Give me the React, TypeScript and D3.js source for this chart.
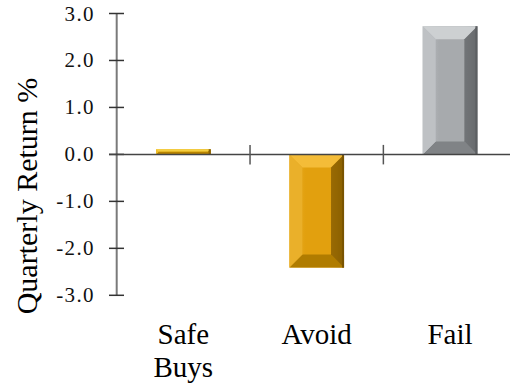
import React from "react";
import * as d3 from "d3";

const categories = ["Safe Buys", "Avoid", "Fail"];
const values = [0.11, -2.41, 2.73];
const yTicks = [3, 2, 1, 0, -1, -2, -3];
const barPalettes = [
  { light: "#F5CE40", mid: "#E6AE0A", dark: "#8A6200", bottom: "#B88400", left: "#EFBE28" },
  { light: "#F4BC38", mid: "#E2A00E", dark: "#7A5400", bottom: "#B07C00", left: "#EAB02A" },
  { light: "#CDD0D2", mid: "#A7AAAD", dark: "#5C5F62", bottom: "#808386", left: "#BEC1C4" },
];

const W = 510;
const H = 389;

export default function App() {
  const y = d3.scaleLinear().domain([-3, 3]).range([295.3, 13.5]);
  const x = d3.scaleBand<string>().domain(categories).range([116.7, 516.7]).padding(0);
  const barW = x.bandwidth() * 0.41;
  const axisX = 116.7;
  const y0 = y(0);

  return (
    <svg width={W} height={H} style={{ position: "absolute", left: 0, top: 0, background: "#fff" }}>
      <defs>
        {barPalettes.map((p, i) => (
          <linearGradient id={`g${i}`} key={i} x1="0" x2="1" y1="0" y2="0">
            <stop offset="0" stopColor={p.left} />
            <stop offset="0.3" stopColor={p.mid} />
            <stop offset="0.75" stopColor={p.mid} />
            <stop offset="1" stopColor={p.bottom} />
          </linearGradient>
        ))}
      </defs>

      {/* bars */}
      {categories.map((c, i) => {
        const v = values[i];
        const bx = (x(c) as number) + (x.bandwidth() - barW) / 2;
        const top = Math.min(y(v), y0);
        const h = Math.abs(y(v) - y0);
        const w = barW;
        const b = Math.min(13, h / 2, w / 2);
        const p = barPalettes[i];
        const pts = (arr: number[][]) => arr.map((q) => q.join(",")).join(" ");
        const X = bx, Y = top;
        return (
          <g key={c}>
            <rect x={X} y={Y} width={w} height={h} fill={`url(#g${i})`} />
            <polygon points={pts([[X, Y], [X + w, Y], [X + w - b, Y + b], [X + b, Y + b]])} fill={p.light} />
            <polygon points={pts([[X, Y + h], [X + w, Y + h], [X + w - b, Y + h - b], [X + b, Y + h - b]])} fill={p.bottom} />
            <polygon points={pts([[X, Y], [X + b, Y + b], [X + b, Y + h - b], [X, Y + h]])} fill={p.left} />
            <polygon points={pts([[X + w, Y], [X + w - b, Y + b], [X + w - b, Y + h - b], [X + w, Y + h]])} fill={p.dark} opacity={0.7} />
            <rect x={X + w - 2} y={Y} width={2} height={h} fill={p.dark} />
          </g>
        );
      })}

      {/* y axis */}
      <line x1={axisX} x2={axisX} y1={y(3)} y2={y(-3)} stroke="#7a7a7a" strokeWidth={2} />
      {yTicks.map((t) => (
        <g key={t}>
          <line x1={109} x2={124} y1={y(t)} y2={y(t)} stroke="#333" strokeWidth={1.5} />
          <text
            x={95}
            y={y(t) + 7}
            textAnchor="end"
            style={{ fontFamily: "'Liberation Serif', serif", fontSize: "21px", letterSpacing: "1.4px" }}
            fill="#111"
          >
            {t.toFixed(1)}
          </text>
        </g>
      ))}

      {/* baseline */}
      <line x1={109} x2={W} y1={y0} y2={y0} stroke="#444" strokeWidth={1.5} />
      {categories.slice(1).map((c) => (
        <line key={c} x1={x(c) as number} x2={x(c) as number} y1={y0 - 9.5} y2={y0 + 10} stroke="#555" strokeWidth={1.5} />
      ))}

      {/* category labels */}
      {categories.map((c) => {
        const words = c.split(" ");
        const cx = (x(c) as number) + x.bandwidth() / 2;
        return (
          <text key={c} textAnchor="middle" fontFamily="'Liberation Serif', 'Times New Roman', serif" fontSize={29} fill="#000">
            {words.map((wd, k) => (
              <tspan key={k} x={cx} y={344 + k * 33}>
                {wd}
              </tspan>
            ))}
          </text>
        );
      })}

      {/* y title */}
      <text
        transform={`translate(37,196) rotate(-90)`}
        textAnchor="middle"
        fontFamily="'Liberation Serif', 'Times New Roman', serif"
        fontSize={30}
        fill="#000"
      >
        Quarterly Return %
      </text>
    </svg>
  );
}
